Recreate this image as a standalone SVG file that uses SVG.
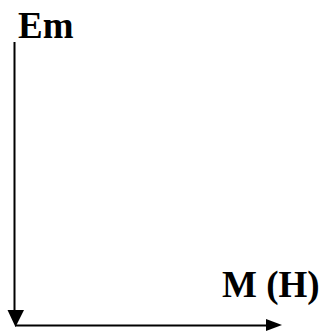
<svg xmlns="http://www.w3.org/2000/svg" width="322" height="332" viewBox="0 0 322 332">
<style>
.lbl{font-family:"Liberation Serif","Times New Roman",serif;font-weight:bold;font-size:37px;fill:#000}
.ax{stroke:#000;stroke-width:2;fill:none}
</style>
<rect width="322" height="332" fill="#fff"/>
<g id="connectors">
<line class="ax" x1="14.5" y1="42" x2="14.5" y2="312"/>
<polygon points="7.5,310 24,310 15.5,327" fill="#000"/>
<line class="ax" x1="15" y1="325.5" x2="268" y2="325.5"/>
<polygon points="266,319 282,325 266,331" fill="#000"/>
</g>
<g id="label-em"><text class="lbl" x="18" y="38">Em</text></g>
<g id="label-mh"><text class="lbl" x="222" y="296.5">M (H)</text></g>
</svg>
